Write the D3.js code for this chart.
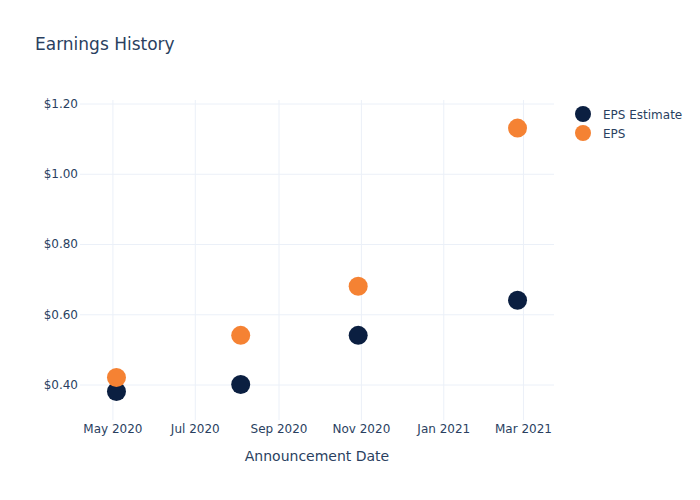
<!DOCTYPE html>
<html>
<head>
<meta charset="utf-8">
<script src="https://cdn.jsdelivr.net/npm/d3@7"></script>
<style>
  html, body { margin: 0; padding: 0; background: #fff; }
  svg { display: block; font-family: "DejaVu Sans", Verdana, sans-serif; }
</style>
</head>
<body>
<svg id="chart" width="700" height="500"></svg>
<script>
// ---- data ----
const dates = ["2020-05-04", "2020-08-04", "2020-10-30", "2021-02-25"];
const epsEstimate = [0.38, 0.40, 0.54, 0.64];
const eps = [0.42, 0.54, 0.68, 1.13];
const seriesNames = ["EPS Estimate", "EPS"];
const seriesColors = ["#0b1f41", "#f58233"];
const xDomain = ["2020-04-07", "2021-03-24"];
const yDomain = [0.299, 1.21];
const yTicks = [0.4, 0.6, 0.8, 1.0, 1.2];
const xTickDates = ["2020-05-01", "2020-07-01", "2020-09-01", "2020-11-01", "2021-01-01", "2021-03-01"];
const titleText = "Earnings History";
const xTitle = "Announcement Date";

// ---- chart ----
const parse = d3.utcParse("%Y-%m-%d");
const svg = d3.select("#chart");
const plot = { left: 80, right: 554, top: 100, bottom: 420 };
const textColor = "#2a3f5f";
const gridColor = "#ebf0f8";

const x = d3.scaleUtc().domain(xDomain.map(parse)).range([plot.left, plot.right]);
const y = d3.scaleLinear().domain(yDomain).range([plot.bottom, plot.top]);

// gridlines
const xAxis = d3.axisBottom(x)
  .tickValues(xTickDates.map(parse))
  .tickFormat(d3.utcFormat("%b %Y"))
  .tickSize(-(plot.bottom - plot.top))
  .tickPadding(4);
const gx = svg.append("g").attr("transform", `translate(0,${plot.bottom})`).call(xAxis);
gx.select(".domain").remove();
gx.selectAll("line").attr("stroke", gridColor).attr("stroke-width", 1);
gx.selectAll("text").attr("fill", textColor).attr("font-size", 12)
  .attr("font-family", '"DejaVu Sans", Verdana, sans-serif');

const yAxis = d3.axisLeft(y)
  .tickValues(yTicks)
  .tickFormat(d => "$" + d3.format(".2f")(d))
  .tickSize(-(plot.right - plot.left))
  .tickPadding(2);
const gy = svg.append("g").attr("transform", `translate(${plot.left},0)`).call(yAxis);
gy.select(".domain").remove();
gy.selectAll("line").attr("stroke", gridColor).attr("stroke-width", 1);
gy.selectAll("text").attr("fill", textColor).attr("font-size", 12)
  .attr("font-family", '"DejaVu Sans", Verdana, sans-serif');

// points
const series = [epsEstimate, eps];
series.forEach((vals, si) => {
  svg.append("g").selectAll("circle")
    .data(vals.map((v, i) => ({ date: parse(dates[i]), v })))
    .join("circle")
    .attr("cx", d => x(d.date))
    .attr("cy", d => y(d.v))
    .attr("r", 9.5)
    .attr("fill", seriesColors[si]);
});

// title
svg.append("text").attr("x", 35).attr("y", 50)
  .attr("fill", textColor).attr("font-size", 17).text(titleText);

// x axis title
svg.append("text").attr("x", (plot.left + plot.right) / 2).attr("y", 461)
  .attr("text-anchor", "middle").attr("fill", textColor).attr("font-size", 14)
  .text(xTitle);

// legend
const lg = svg.append("g");
seriesNames.forEach((name, i) => {
  const ly = 114 + i * 19;
  lg.append("circle").attr("cx", 583).attr("cy", ly).attr("r", 8).attr("fill", seriesColors[i]);
  lg.append("text").attr("x", 603).attr("y", ly + 4.5).attr("fill", textColor)
    .attr("font-size", 12).text(name);
});
</script>
</body>
</html>
